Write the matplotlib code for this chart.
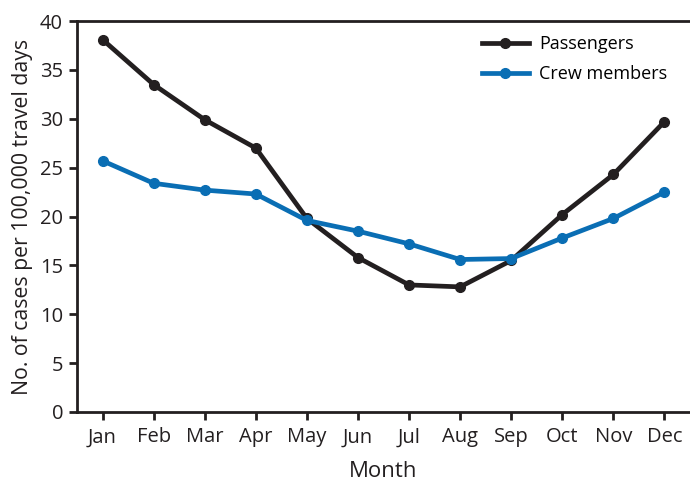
import numpy as np
import matplotlib.pyplot as plt

# Monthly rates
months = ['Jan', 'Feb', 'Mar', 'Apr', 'May', 'Jun', 'Jul', 'Aug', 'Sep', 'Oct', 'Nov', 'Dec']
passengers = [38.1, 33.5, 29.9, 27.0, 19.8, 15.8, 13.0, 12.8, 15.5, 20.2, 24.3, 29.7]
crew = [25.7, 23.4, 22.7, 22.3, 19.6, 18.5, 17.2, 15.6, 15.7, 17.8, 19.8, 22.5]

plt.rcParams['font.family'] = ['Open Sans', 'DejaVu Sans']

fig = plt.figure(figsize=(6.9, 4.83), dpi=100)
ax = fig.add_axes([0.1116, 0.147, 0.8884, 0.8095])

x = np.arange(len(months))
ax.plot(x, passengers, color='#231f20', lw=3.4, marker='o', ms=7, label='Passengers')
ax.plot(x, crew, color='#0a6eb4', lw=3.4, marker='o', ms=7, label='Crew members')

ax.set_xlim(-0.5, 11.5)
ax.set_ylim(0, 40)
ax.set_xticks(x)
ax.set_xticklabels(months)
ax.set_yticks(range(0, 41, 5))

for side in ['left', 'bottom', 'top']:
    ax.spines[side].set_linewidth(2)
    ax.spines[side].set_color('#231f20')
ax.spines['right'].set_visible(False)

ax.tick_params(axis='both', direction='out', width=2, length=6, color='#231f20',
               labelsize=14.5, labelcolor='#231f20', pad=4)
ax.tick_params(axis='x', pad=5)

ax.set_xlabel('Month', fontsize=16, color='#231f20', labelpad=10)
ax.set_ylabel('No. of cases per 100,000 travel days', fontsize=15.3, color='#231f20', labelpad=5)

ax.legend(loc='upper right', bbox_to_anchor=(0.99, 1.005), frameon=False, fontsize=13,
          handlelength=2.6, labelspacing=0.65, handletextpad=0.6)

fig.savefig('out.png', dpi=100)
